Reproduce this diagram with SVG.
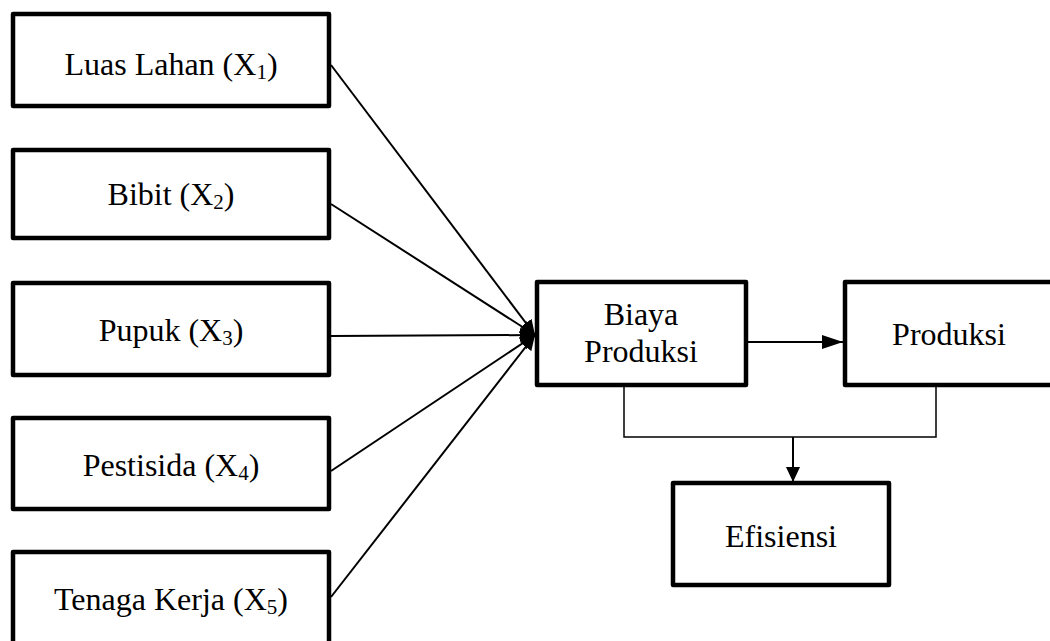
<svg xmlns="http://www.w3.org/2000/svg" width="1050" height="641" viewBox="0 0 1050 641">
<style>
.box{fill:#fff;stroke:#000;stroke-width:4.5;stroke-linejoin:round}
.t{font-family:"Liberation Serif","Times New Roman",serif;font-size:32px;fill:#000;text-anchor:middle}
.sub{font-size:21px}
.ln{stroke:#000;stroke-width:2;fill:none}
.thin{stroke:#000;stroke-width:1.5;fill:none}
</style>
<defs>
<marker id="ah" markerUnits="userSpaceOnUse" markerWidth="16" markerHeight="16" viewBox="0 0 16 16" refX="15" refY="8" orient="auto">
<path d="M0,1 L15,8 L0,15 Z" fill="#000"/>
</marker>
<marker id="ah2" markerUnits="userSpaceOnUse" markerWidth="22" markerHeight="16" viewBox="0 0 22 16" refX="21" refY="8" orient="auto">
<path d="M0,1 L21,8 L0,15 Z" fill="#000"/>
</marker>
</defs>
<g id="connectors">
<line class="ln" x1="331" y1="65" x2="535" y2="335" marker-end="url(#ah)"/>
<line class="ln" x1="331" y1="204" x2="535" y2="335" marker-end="url(#ah)"/>
<line class="ln" x1="331" y1="336" x2="535" y2="335" marker-end="url(#ah)"/>
<line class="ln" x1="331" y1="471" x2="535" y2="335" marker-end="url(#ah)"/>
<line class="ln" x1="331" y1="597" x2="535" y2="335" marker-end="url(#ah)"/>
<line class="ln" x1="748" y1="342" x2="843" y2="342" marker-end="url(#ah2)"/>
<polyline class="thin" points="624,387 624,437 936,437 936,387"/>
<line class="ln" x1="793" y1="437" x2="793" y2="482" marker-end="url(#ah)"/>
</g>
<g id="n1"><rect class="box" x="13" y="14" width="316" height="92"/><text class="t" x="171" y="75">Luas Lahan (X<tspan class="sub" dy="4">1</tspan><tspan dy="-4">)</tspan></text></g>
<g id="n2"><rect class="box" x="13" y="150" width="316" height="88"/><text class="t" x="171" y="205">Bibit (X<tspan class="sub" dy="4">2</tspan><tspan dy="-4">)</tspan></text></g>
<g id="n3"><rect class="box" x="13" y="283" width="316" height="92"/><text class="t" x="171" y="341">Pupuk (X<tspan class="sub" dy="4">3</tspan><tspan dy="-4">)</tspan></text></g>
<g id="n4"><rect class="box" x="13" y="418" width="316" height="91"/><text class="t" x="171" y="476">Pestisida (X<tspan class="sub" dy="4">4</tspan><tspan dy="-4">)</tspan></text></g>
<g id="n5"><rect class="box" x="13" y="552" width="316" height="100"/><text class="t" x="171" y="610">Tenaga Kerja (X<tspan class="sub" dy="4">5</tspan><tspan dy="-4">)</tspan></text></g>
<g id="biaya"><rect class="box" x="537" y="282" width="209" height="103"/><text class="t" x="641" y="325">Biaya</text><text class="t" x="641" y="362">Produksi</text></g>
<g id="produksi"><rect class="box" x="845" y="282" width="210" height="103"/><text class="t" x="949" y="345">Produksi</text></g>
<g id="efisiensi"><rect class="box" x="673" y="483" width="216" height="102"/><text class="t" x="781" y="547">Efisiensi</text></g>
</svg>
